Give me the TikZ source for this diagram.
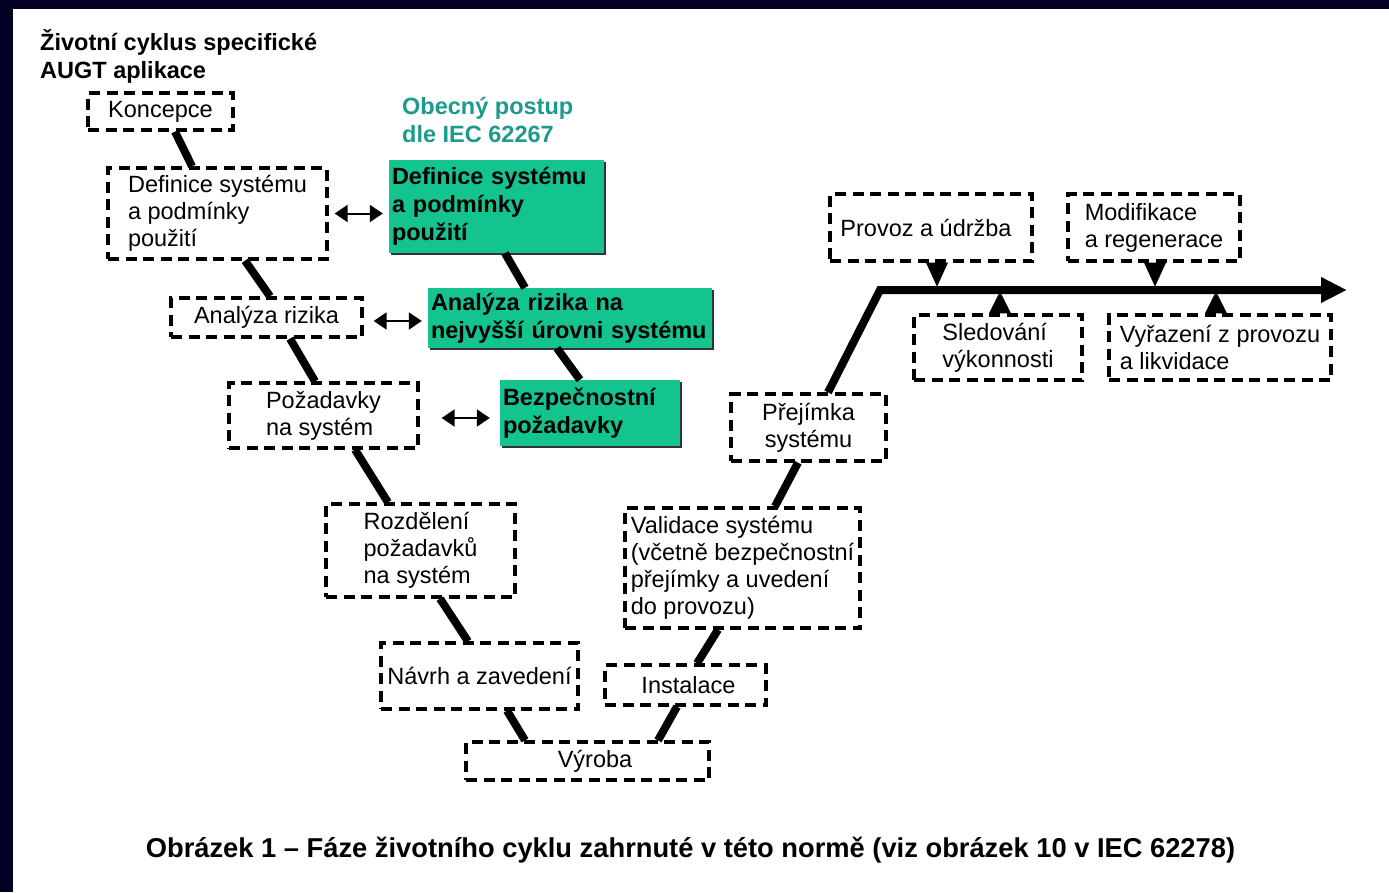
\documentclass[tikz,border=0pt]{standalone}
\usepackage{fontspec}
\setmainfont{Liberation Sans}
\usepackage{tikz}
\usetikzlibrary{arrows.meta,shadows}
\definecolor{CycleNavy}{HTML}{020023}
\definecolor{CycleGreen}{HTML}{14C48F}
\definecolor{CycleTeal}{HTML}{1C9A8C}

\begin{document}
\begin{tikzpicture}[
  x=1pt, y=-1pt,
  every node/.style={font=\fontsize{23.5}{27}\selectfont},
  phase/.style 2 args={draw, line width=3.3pt, dash pattern=on 11pt off 6.5pt, inner sep=0pt, minimum width=#1, minimum height=#2, align=left},
  safety/.style 2 args={fill=CycleGreen, text width=#1, minimum height=#2, inner xsep=3pt, inner ysep=0pt, align=left, font=\fontsize{23.5}{28}\selectfont\bfseries, drop shadow={shadow xshift=1.5pt, shadow yshift=-2pt, fill=black!80, opacity=1}},
  heading/.style={anchor=west, align=left, inner sep=0pt, font=\fontsize{23.5}{28}\selectfont\bfseries},
  link/.style={line width=8pt},
  both/.style={{Triangle[length=13pt,width=17pt]}-{Triangle[length=13pt,width=17pt]}, line width=2pt},
  marker/.style={fill=black}
]
% page and frame
\fill[white] (0,0) rectangle (1389,892);
\fill[CycleNavy] (0,0) rectangle (1389,9);
\fill[CycleNavy] (0,0) rectangle (13,892);
\useasboundingbox (0,0) rectangle (1389,892);

\node[heading] (title) at (40,56) {Životní cyklus specifické\\AUGT aplikace};
\node[heading, text=CycleTeal] (iec) at (402,120) {Obecný postup\\dle IEC 62267};

% left branch of the V
\node[phase={145}{37}] (concept) at (160.5,111.5) {Koncepce};
\node[phase={219}{91}] (sysdef) at (217.5,213.5) {Definice systému\\a podmínky\\použití};
\node[phase={191}{39}] (risk) at (266.5,317.5) {Analýza rizika};
\node[phase={189}{65}] (req) at (323.5,415.5) {Požadavky\\na systém};
\node[phase={189}{93}] (alloc) at (420.5,550.5) {Rozdělení\\požadavků\\na systém};
\node[phase={197}{66}] (design) at (479.5,676) {Návrh a zavedení};
\node[phase={243}{38}] (manuf) at (587.5,761) {\hspace*{15pt}Výroba};

% right branch of the V
\node[phase={161}{40}] (install) at (685.5,685) {\hspace*{6pt}Instalace};
\node[phase={235}{120}] (valid) at (742.5,568) {Validace systému\\(včetně bezpečnostní\\přejímky a uvedení\\do provozu)};
\node[phase={155}{67}, align=center] (accept) at (808.5,427.5) {Přejímka\\systému};
\node[phase={202}{67}] (operate) at (931,227.5) {Provoz a údržba\hspace*{10pt}};
\node[phase={172}{67}] (modify) at (1154,227.5) {Modifikace\\a regenerace};
\node[phase={168}{65}] (monitor) at (998,347.5) {Sledování\\výkonnosti};
\node[phase={222}{65}] (retire) at (1220,347.5) {Vyřazení z provozu\\a likvidace};

% IEC 62267 steps
\node[safety={209}{93}] (gsysdef) at (496.5,206.5) {Definice systému\\a podmínky\\použití};
\node[safety={278}{60}] (grisk) at (570,318) {Analýza rizika na\\nejvyšší úrovni systému};
\node[safety={174}{66}] (gsafe) at (590,413) {Bezpečnostní\\požadavky};

\node[font=\fontsize{27.3}{30}\selectfont\bfseries] (caption) at (690.5,850) {Obrázek 1 -- Fáze životního cyklu zahrnuté v této normě (viz obrázek 10 v IEC 62278)};

\draw[link] ([xshift=14.5pt]concept.south) -- ([xshift=-25.5pt]sysdef.north);
\draw[link] ([xshift=27.5pt]sysdef.south) -- ([xshift=3.5pt]risk.north);
\draw[link] ([xshift=23.5pt]risk.south) -- ([xshift=-8.5pt]req.north);
\draw[link] ([xshift=31.5pt]req.south) -- ([xshift=-32.5pt]alloc.north);
\draw[link] ([xshift=19.5pt]alloc.south) -- ([xshift=-11.5pt]design.north);
\draw[link] ([xshift=27.5pt]design.south) -- ([xshift=-62.5pt]manuf.north);
\draw[link] ([xshift=70.5pt]manuf.north) -- ([xshift=-8.5pt]install.south);
\draw[link] ([xshift=11.5pt]install.north) -- ([xshift=-24.5pt]valid.south);
\draw[link] ([xshift=32.5pt]valid.north) -- ([xshift=-10.5pt]accept.south);

\coordinate (bend) at (880,290);
\coordinate (tip) at (1347,290);
\draw[link, line join=miter, -{Triangle[length=26pt,width=24pt]}] ([xshift=19.5pt]accept.north) -- (bend) -- (tip);

\draw[link] ([xshift=8.5pt]gsysdef.south) -- ([xshift=-45pt]grisk.north);
\draw[link] ([xshift=-13pt]grisk.south) -- ([xshift=-10pt]gsafe.north);

\draw[both] ([xshift=6pt]sysdef.east) -- ([xshift=-6pt]gsysdef.west |- sysdef.east);
\draw[both] ([xshift=10pt,yshift=-3.5pt]risk.east) -- ([xshift=-6pt,yshift=-3.5pt]grisk.west |- risk.east);
\draw[both] ([xshift=22pt,yshift=-2.5pt]req.east) -- ([xshift=-10pt,yshift=-2.5pt]gsafe.west |- req.east);

\fill[marker] ([xshift=6pt]operate.south) ++(-11,0) -- ++(22,0) -- ++(-11,24) -- cycle;
\fill[marker] ([xshift=1pt]modify.south) ++(-11,0) -- ++(22,0) -- ++(-11,24) -- cycle;
\fill[marker] ([xshift=2pt]monitor.north) ++(-11,0) -- ++(22,0) -- ++(-11,-22) -- cycle;
\fill[marker] ([xshift=-4pt]retire.north) ++(-11,0) -- ++(22,0) -- ++(-11,-22) -- cycle;
\end{tikzpicture}
\end{document}
